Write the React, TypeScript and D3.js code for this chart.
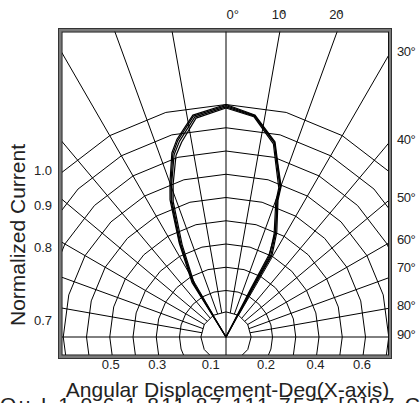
import React from "react";
import * as d3 from "d3";

// ---- data ----
const ringLevels = [0.1, 0.2, 0.3, 0.4, 0.5, 0.6, 0.7, 0.8, 0.9, 1.0];
const radialAngles = [-80, -70, -60, -50, -40, -30, -20, -10, 10, 20, 30, 40, 50, 60, 70, 80];
const topAngleTicks = [0, 10, 20];
const rightAngleTicks = [30, 40, 50, 60, 70, 80, 90];
const leftValueTicks = [1.0, 0.9, 0.8, 0.7];
const bottomLeftTicks = [0.5, 0.3, 0.1];
const bottomRightTicks = [0.2, 0.4, 0.6];

const beamAnglesA = [-32, -32, -26.5, -22.2, -20, -16.4, -14, -8.5, 0, 7.4, 14.1, 16.6, 20.1, 20.8, 25.9, 29.3, 29, 29];
const beamValuesA = [0, 0.275, 0.45, 0.637, 0.705, 0.825, 0.875, 0.965, 1.0, 0.963, 0.865, 0.78, 0.69, 0.63, 0.5, 0.405, 0.24, 0];
const beamAnglesB = [-31.4, -31.4, -25.9, -21.7, -19.5, -15.9, -13.4, -8.1, 0, 7.3, 14, 16.4, 19.8, 20.5, 25.5, 28.8, 28.4, 28.4];
const beamValuesB = [0, 0.27, 0.445, 0.63, 0.7, 0.815, 0.865, 0.955, 0.99, 0.958, 0.86, 0.775, 0.685, 0.625, 0.495, 0.4, 0.24, 0];
const beamAnglesC = [-30.8, -30.8, -25.4, -21.3, -19.1, -15.4, -12.8, -7.8, 0, 7.2, 13.8, 16.2, 19.5, 20.2, 25, 28.2, 27.8, 27.8];
const beamValuesC = [0, 0.265, 0.44, 0.625, 0.695, 0.81, 0.86, 0.95, 0.985, 0.955, 0.855, 0.77, 0.68, 0.62, 0.49, 0.395, 0.235, 0];
const beamAnglesD = [-31.2, -31.2, -26.2, -21.9, -19.8, -16.2, -13.8, -8.4, 0, 7.4, 14, 16.5, 19.9, 20.6, 25.3, 27.6, 27.2, 27.2];
const beamValuesD = [0, 0.27, 0.45, 0.632, 0.7, 0.82, 0.87, 0.96, 0.995, 0.96, 0.862, 0.778, 0.688, 0.628, 0.497, 0.4, 0.235, 0];

const yTitle = "Normalized Current";
const xTitle = "Angular Displacement-Deg(X-axis)";
const footerText = "Ou I-1.0.6 1.811.87.111.75.T  [0]87.C";

// ---- layout ----
const W = 420;
const H = 403;
const cx = 226;
const cy = 337;
const x0 = 62;
const x1 = 389;
const y0 = 31;
const y1 = 355;
const FONT = "'Liberation Sans', Arial, sans-serif";

const rScale = d3.scaleLinear().domain([0, 1]).range([0, 232.5]);
const rad = (deg: number) => (deg * Math.PI) / 180;

const ringLine = d3
  .lineRadial<number>()
  .angle((a) => rad(a))
  .curve(d3.curveLinearClosed);

const beamLine = d3
  .lineRadial<[number, number]>()
  .angle((d) => rad(d[0]))
  .radius((d) => rScale(d[1]));

const beams = [
  d3.zip(beamAnglesA, beamValuesA),
  d3.zip(beamAnglesB, beamValuesB),
  d3.zip(beamAnglesC, beamValuesC),
  d3.zip(beamAnglesD, beamValuesD),
] as [number, number][][];

const ringVertexAngles = d3.range(0, 360, 15);
const innerRingVertexAngles = d3.range(0, 360, 30);

export default function App() {
  const rightNudge: Record<number, number> = { 70: -10 };
  const bottomNudge: Record<number, number> = { 0.1: 8, 0.2: -6.5 };
  return (
    <svg
      width={W}
      height={H}
      style={{ position: "absolute", left: 0, top: 0, display: "block", background: "#fff" }}
      fontFamily={FONT}
    >
      <defs>
        <clipPath id="inner">
          <rect x={x0} y={y0} width={x1 - x0} height={y1 - y0} />
        </clipPath>
      </defs>
      <rect x={0} y={0} width={W} height={H} fill="#fff" />

      <g clipPath="url(#inner)" stroke="#000" strokeWidth={1} fill="none">
        {ringLevels.map((lv, i) => (
          <path
            key={"ring" + lv}
            transform={`translate(${cx},${cy})`}
            d={
              ringLine.radius(() => rScale(lv) * (i === 0 ? 1.08 : 1))(
                i === 0 ? innerRingVertexAngles : ringVertexAngles
              ) || ""
            }
          />
        ))}
        {radialAngles.map((a) => {
          const r0 = rScale(0.1) * 1.05;
          const r1 = 500;
          return (
            <line
              key={"rad" + a}
              x1={cx + r0 * Math.sin(rad(a))}
              y1={cy - r0 * Math.cos(rad(a))}
              x2={cx + r1 * Math.sin(rad(a))}
              y2={cy - r1 * Math.cos(rad(a))}
            />
          );
        })}
        <line x1={cx} y1={y0} x2={cx} y2={y1} />
        <line x1={x0} y1={cy} x2={x1} y2={cy} />
      </g>

      <g transform={`translate(${cx},${cy})`} fill="none" stroke="#000" strokeWidth={1.2} strokeLinejoin="round">
        {beams.map((b, i) => (
          <path key={"beam" + i} d={beamLine(b) || ""} />
        ))}
      </g>

      {/* frame */}
      <rect x={60.25} y={30.25} width={329.5} height={326.5} fill="none" stroke="#7a7a7a" strokeWidth={3} />
      <rect x={58.5} y={28.5} width={333} height={330} fill="none" stroke="#333" strokeWidth={1} />
      <rect x={62} y={32} width={x1 - 62.5} height={y1 - 32} fill="none" stroke="#111" strokeWidth={1} />

      {/* left value labels */}
      <g fontSize={13} fill="#222" textAnchor="end">
        {leftValueTicks.map((v) => {
          const r = rScale(v);
          const dx = cx - x0;
          const yc = r > dx ? cy - Math.sqrt(r * r - dx * dx) - 2 : cy - 17;
          return (
            <text key={"lv" + v} x={52} y={yc + 4.5}>
              {v.toFixed(1)}
            </text>
          );
        })}
      </g>

      {/* bottom value labels */}
      <g fontSize={13} fill="#222" textAnchor="middle">
        {bottomLeftTicks.map((v) => (
          <text key={"bl" + v} x={cx - rScale(v) + (bottomNudge[v] ?? 1)} y={368.5}>
            {v.toFixed(1)}
          </text>
        ))}
        {bottomRightTicks.map((v) => (
          <text key={"br" + v} x={cx + rScale(v) + (bottomNudge[v] ?? -3.5)} y={368.5}>
            {v.toFixed(1)}
          </text>
        ))}
      </g>

      {/* top angle labels */}
      <g fontSize={13} fill="#222">
        {topAngleTicks.map((a) => {
          const xTop = cx + (cy - y0) * Math.tan(rad(a));
          if (a === 0) {
            return (
              <text key={"ta" + a} x={xTop + 0.5} y={18.5}>
                {`${a}°`}
              </text>
            );
          }
          return (
            <g key={"ta" + a}>
              <text x={xTop - 1} y={18.5} textAnchor="middle">
                {`${a}`}
              </text>
              <text x={xTop + 0.5} y={18.5}>
                °
              </text>
            </g>
          );
        })}
      </g>

      {/* right angle labels */}
      <g fontSize={13} fill="#222">
        {rightAngleTicks.map((a) => {
          const dx = x1 - cx;
          const yc = a === 90 ? cy : cy - dx / Math.tan(rad(a));
          const y = yc + (rightNudge[a] ?? -3) + 4.5;
          return (
            <text key={"ra" + a} x={397} y={y} letterSpacing={-0.5}>
              {`${a}°`}
            </text>
          );
        })}
      </g>

      {/* titles */}
      <text
        transform={`translate(25,235) rotate(-90)`}
        textAnchor="middle"
        fontSize={21}
        fill="#222"
      >
        {yTitle}
      </text>
      <text x={227.5} y={397} textAnchor="middle" fontSize={21} fill="#222">
        {xTitle}
      </text>
      <text x={0} y={412} fontSize={21} fill="#222" textLength={420} lengthAdjust="spacing">
        {footerText}
      </text>
    </svg>
  );
}
